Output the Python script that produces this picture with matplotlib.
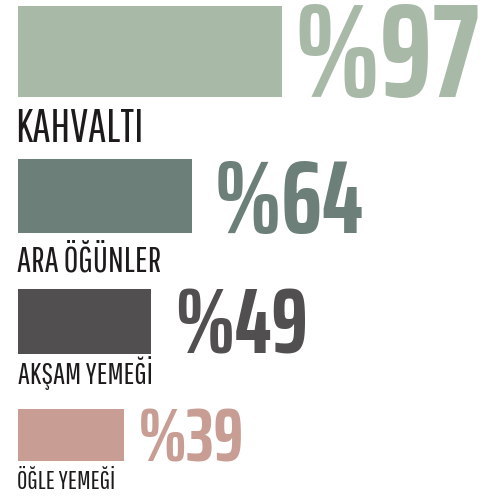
import matplotlib
matplotlib.use("Agg")
import matplotlib.pyplot as plt
from matplotlib.font_manager import FontProperties
from matplotlib.textpath import TextPath

# data
meals = ["KAHVALTI", "ARA ÖĞÜNLER", "AKŞAM YEMEĞİ", "ÖĞLE YEMEĞİ"]
shares = [97, 64, 49, 39]
colors = ["#a8b9a8", "#6d7f79", "#524f51", "#c89e94"]

# layout in pixels (figure is 500 x 501)
bar_top = [6, 159, 289, 409]
bar_h = [91, 74, 65, 52]
num_cap = [94, 73, 65, 53]
num_w = [174, 142, 125, 99]
num_gap = [17, 26, 27, 17]
lab_cap = [30, 23, 19.5, 17]
lab_w = [130, 153, 142, 99]
lab_drop = [45, 38, 30, 28]
px_per_pct = 2.72
x0 = 18

num_font = FontProperties(family="Saira ExtraCondensed", weight="bold")
lab_font = FontProperties(family="Pathway Gothic One")


def ink(s, fp):
    return TextPath((0, 0), s, size=1, prop=fp).get_extents()


cap_num = ink("H", num_font).height
cap_lab = ink("H", lab_font).height

fig = plt.figure(figsize=(5, 5.01), dpi=100)
ax = fig.add_axes([0, 0, 1, 1])
ax.set_xlim(-x0 / px_per_pct, (500 - x0) / px_per_pct)
ax.set_ylim(501, 0)
ax.axis("off")

centers = [t + h / 2 for t, h in zip(bar_top, bar_h)]
ax.barh(centers, shares, height=bar_h, left=0, color=colors)

for i in range(len(meals)):
    bottom = bar_top[i] + bar_h[i]
    txt = "%" + str(shares[i])
    e = ink(txt, num_font)
    size = 0.5 * (num_w[i] * 0.72 / e.width + num_cap[i] * 0.72 / cap_num)
    ax.annotate(txt, xy=(shares[i], bottom),
                xytext=(num_gap[i] * 0.72 - e.x0 * size, 0),
                textcoords="offset points",
                ha="left", va="baseline", color=colors[i],
                fontproperties=num_font, fontsize=size)

    e = ink(meals[i], lab_font)
    size = 0.5 * (lab_w[i] * 0.72 / e.width + lab_cap[i] * 0.72 / cap_lab)
    ax.annotate(meals[i], xy=(0, bottom),
                xytext=(-e.x0 * size, -lab_drop[i] * 0.72),
                textcoords="offset points",
                ha="left", va="baseline", color="#1c1a1a",
                fontproperties=lab_font, fontsize=size)

fig.savefig("out.png")
